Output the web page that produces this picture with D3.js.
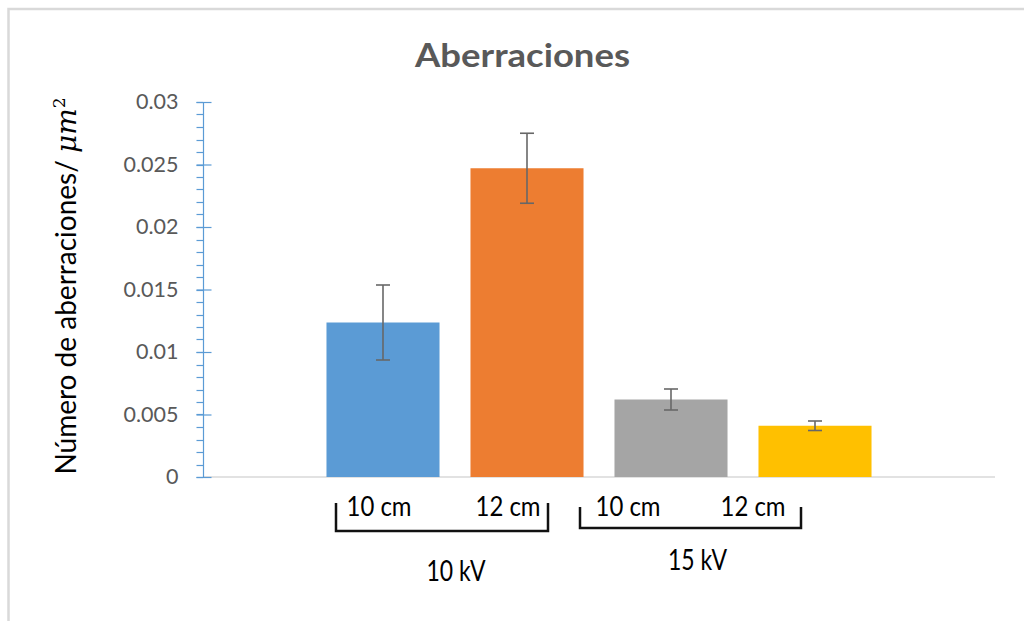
<!DOCTYPE html>
<html><head><meta charset="utf-8">
<script src="https://cdn.jsdelivr.net/npm/d3@7"></script>
<style>html,body{margin:0;padding:0;background:#fff;overflow:hidden}</style>
</head><body>
<script>
const categories = ["10 kV 10 cm", "10 kV 12 cm", "15 kV 10 cm", "15 kV 12 cm"];
const values = [0.01236, 0.0247, 0.0062, 0.0041];
const errors = [0.0030, 0.0028, 0.00084, 0.00038];
const colors = ["#5B9BD5", "#ED7D31", "#A5A5A5", "#FFC000"];
const yTicks = [0, 0.005, 0.01, 0.015, 0.02, 0.025, 0.03];
const yTickLabels = ["0", "0.005", "0.01", "0.015", "0.02", "0.025", "0.03"];
const subLabels = ["10 cm", "12 cm", "10 cm", "12 cm"];
const groupLabels = ["10 kV", "15 kV"];
const title = "Aberraciones";

(function () {
const W = 1024, H = 621;
const svg = d3.select("body").append("svg").attr("width", W).attr("height", H);
svg.append("rect").attr("x", 0).attr("y", 0).attr("width", W).attr("height", H).attr("fill", "#fff");
// chart frame
svg.append("rect").attr("x", 8.5).attr("y", 9).attr("width", W + 20).attr("height", H + 20)
  .attr("fill", "none").attr("stroke", "#d9d9d9").attr("stroke-width", 2.5);

const pLeft = 203, pRight = 995, pTop = 102, pBottom = 477;
const y = d3.scaleLinear().domain([0, 0.03]).range([pBottom, pTop]);
const x = d3.scaleBand().domain(categories).range([pLeft, pRight]).paddingInner(0.215).paddingOuter(0.8575);

// x axis line
svg.append("line").attr("x1", pLeft).attr("x2", pRight).attr("y1", pBottom).attr("y2", pBottom)
  .attr("stroke", "#d9d9d9").attr("stroke-width", 1.5);

// minor ticks
const minor = d3.range(0, 31).map(i => i * 0.001);
svg.append("g").selectAll("line").data(minor).join("line")
  .attr("x1", pLeft - 6.5).attr("x2", pLeft).attr("y1", d => Math.round(y(d)) + 0.5).attr("y2", d => Math.round(y(d)) + 0.5)
  .attr("stroke", "#5B9BD5").attr("stroke-width", 1.2);

// y axis
const yAxis = d3.axisLeft(y).tickValues(yTicks).tickFormat((d, i) => yTickLabels[i]).tickSizeInner(6.5).tickSizeOuter(0).tickPadding(18);
const gy = svg.append("g").attr("transform", `translate(${pLeft},0)`).call(yAxis);
gy.select(".domain").attr("stroke", "#5B9BD5").attr("stroke-width", 1.2);
gy.selectAll(".tick line").attr("stroke", "#5B9BD5").attr("stroke-width", 1.2).attr("x2", 8.5).attr("x1", -6.5);
gy.selectAll(".tick text").attr("fill", "#595959").attr("font-family", "Lato, 'Open Sans', sans-serif")
  .attr("font-size", 21.5);

// bars
svg.append("g").selectAll("rect").data(categories).join("rect")
  .attr("x", d => x(d)).attr("width", x.bandwidth())
  .attr("y", (d, i) => y(values[i])).attr("height", (d, i) => pBottom - y(values[i]))
  .attr("fill", (d, i) => colors[i]);

// error bars
const eg = svg.append("g").attr("stroke", "#676767").attr("stroke-width", 1.6);
categories.forEach((c, i) => {
  const cx = x(c) + x.bandwidth() / 2;
  const y1 = y(values[i] + errors[i]), y2 = y(values[i] - errors[i]);
  eg.append("line").attr("x1", cx).attr("x2", cx).attr("y1", y1).attr("y2", y2);
  eg.append("line").attr("x1", cx - 7).attr("x2", cx + 7).attr("y1", y1).attr("y2", y1);
  eg.append("line").attr("x1", cx - 7).attr("x2", cx + 7).attr("y1", y2).attr("y2", y2);
});

// title
svg.append("text").attr("x", 522.5).attr("y", 67).attr("text-anchor", "middle")
  .attr("font-family", "Lato, 'Open Sans', sans-serif").attr("font-weight", "bold").attr("font-size", 33)
  .attr("fill", "#595959").attr("textLength", 215).attr("lengthAdjust", "spacingAndGlyphs").text(title);

// y label
const yl = svg.append("text").attr("transform", "translate(76,286) rotate(-90)").attr("text-anchor", "middle")
  .attr("font-family", "Lato, 'Open Sans', sans-serif").attr("font-size", 28).attr("fill", "#000");
yl.append("tspan").text("Número de aberraciones/ ");
yl.append("tspan").attr("font-family", "'DejaVu Serif', serif").attr("font-style", "italic").text("μm");
yl.append("tspan").attr("font-family", "'DejaVu Serif', serif").attr("font-size", 17).attr("dy", -11).text("2");

// sub-category labels (hand-placed under brackets in the original)
const subX = [379, 508, 628, 753];
const subY = [516, 516, 516, 516];
svg.append("g").selectAll("text").data(subLabels).join("text")
  .attr("x", (d, i) => subX[i]).attr("y", (d, i) => subY[i]).attr("text-anchor", "middle")
  .attr("font-family", "Lato, 'Open Sans', sans-serif").attr("font-size", 27).attr("fill", "#000")
  .attr("textLength", 65).attr("lengthAdjust", "spacingAndGlyphs").text(d => d);

// brackets
const brackets = [[336, 548, 503, 531], [580, 801, 507, 528]];
svg.append("g").selectAll("path").data(brackets).join("path")
  .attr("d", b => `M${b[0]},${b[2]}V${b[3]}H${b[1]}V${b[2]}`)
  .attr("fill", "none").attr("stroke", "#111").attr("stroke-width", 2.5);

// group labels
const groupX = [456, 697.5], groupY = [581, 570];
svg.append("g").selectAll("text").data(groupLabels).join("text")
  .attr("x", (d, i) => groupX[i]).attr("y", (d, i) => groupY[i]).attr("text-anchor", "middle")
  .attr("font-family", "Lato, 'Open Sans', sans-serif").attr("font-size", 28).attr("fill", "#000")
  .attr("textLength", 59).attr("lengthAdjust", "spacingAndGlyphs").text(d => d);
})();
</script>
</body></html>
